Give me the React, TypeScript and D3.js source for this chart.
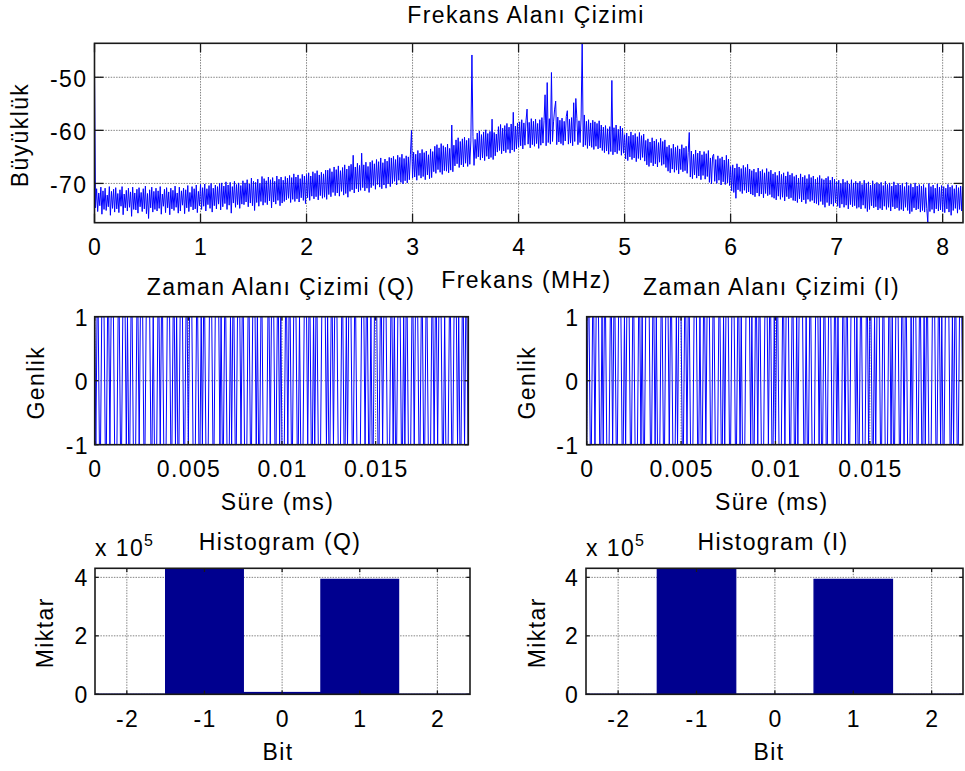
import React from 'react';
import * as d3 from 'd3';

const FONT = '"Liberation Sans", Arial, Helvetica, sans-serif';

// ---------- Spectrum (dB) sampled every 0.01 MHz ----------
const spectrumStepMHz = 0.01;
const spectrumDb = [
  -48.9, -74.6, -71.0, -75.3, -71.8, -74.2, -70.7, -75.8, -71.4, -74.9, -70.9, -75.1, -72.2, -74.4, -70.6, -76.0, -71.5, -74.7, -71.1, -75.4,
  -70.8, -74.8, -71.9, -75.5, -71.2, -74.3, -70.6, -75.9, -72.0, -74.6, -71.3, -75.2, -70.9, -74.5, -71.6, -76.2, -70.7, -74.9, -71.8, -75.0,
  -71.1, -75.6, -70.8, -74.4, -71.7, -75.3, -71.0, -74.8, -70.5, -75.7, -71.9, -76.6, -71.2, -74.6, -70.7, -75.4, -71.5, -74.9, -70.9, -75.2,
  -71.4, -74.7, -70.6, -75.8, -72.0, -74.3, -71.1, -75.5, -70.8, -74.6, -71.6, -75.9, -70.9, -74.8, -71.3, -75.1, -70.5, -74.5, -71.8, -75.6,
  -70.7, -75.2, -71.4, -74.1, -70.9, -75.7, -71.2, -74.6, -70.4, -75.3, -71.7, -74.4, -70.6, -75.0, -71.0, -74.8, -70.3, -75.5, -71.5, -74.2,
  -70.2, -74.9, -70.8, -74.3, -70.1, -75.2, -71.0, -74.0, -70.4, -74.7, -70.0, -75.4, -70.9, -74.2, -70.3, -74.8, -70.6, -73.9, -70.0, -75.0,
  -69.9, -74.4, -70.5, -73.8, -69.7, -74.9, -70.3, -74.1, -69.8, -75.6, -70.6, -73.7, -69.6, -74.5, -70.2, -74.0, -69.9, -74.7, -70.4, -73.9,
  -69.5, -74.0, -69.9, -73.5, -69.3, -74.4, -70.1, -73.7, -69.0, -74.2, -69.6, -75.1, -69.8, -73.6, -69.2, -74.3, -70.0, -73.4, -68.7, -74.1,
  -69.1, -73.6, -69.5, -74.0, -68.8, -73.3, -69.3, -74.6, -68.9, -73.5, -69.6, -73.9, -68.6, -73.2, -69.2, -74.2, -68.8, -73.7, -69.4, -73.4,
  -68.7, -73.1, -69.0, -72.8, -68.5, -73.6, -68.9, -73.0, -68.2, -73.4, -68.8, -72.9, -68.4, -73.5, -69.1, -72.7, -68.3, -73.2, -68.6, -73.8,
  -68.3, -72.7, -68.0, -73.2, -68.6, -72.4, -67.8, -72.9, -68.1, -72.5, -67.6, -73.1, -68.4, -72.3, -67.9, -72.8, -68.2, -72.6, -67.5, -73.0,
  -67.5, -72.1, -67.2, -72.5, -67.8, -71.7, -66.9, -72.3, -67.4, -71.8, -66.7, -72.4, -67.6, -71.5, -67.0, -72.2, -66.5, -71.9, -67.3, -72.6,
  -66.7, -71.5, -66.4, -71.2, -64.7, -71.8, -66.9, -71.0, -66.2, -71.6, -66.6, -71.3, -64.3, -70.8, -66.5, -71.4, -66.0, -70.9, -66.8, -71.7,
  -66.0, -70.8, -65.7, -70.4, -66.3, -71.1, -65.5, -70.2, -65.9, -70.7, -65.2, -71.0, -66.1, -70.3, -65.4, -70.9, -65.8, -70.1, -65.1, -70.6,
  -65.2, -70.0, -64.9, -69.6, -65.5, -70.3, -64.7, -69.4, -65.1, -69.8, -64.5, -70.1, -65.3, -69.5, -64.8, -69.9, -65.0, -69.3, -64.6, -60.0,
  -69.0, -64.1, -68.8, -64.5, -69.4, -63.8, -68.5, -64.3, -69.0, -63.6, -68.7, -64.2, -69.3, -63.9, -68.4, -64.6, -69.1, -63.5, -68.9, -64.0,
  -67.8, -63.0, -68.1, -62.7, -67.4, -63.3, -67.9, -62.5, -68.3, -62.9, -67.6, -63.2, -67.7, -62.6, -68.0, -63.4, -67.5, -59.0, -67.8, -62.8,
  -66.7, -61.8, -66.3, -61.4, -67.0, -62.1, -66.5, -61.6, -66.9, -61.3, -66.2, -61.9, -66.8, -61.5, -66.4, -62.0, -45.8, -61.2, -66.6, -61.7,
  -65.3, -60.5, -65.0, -60.1, -65.6, -60.8, -65.2, -60.3, -65.7, -59.9, -64.9, -60.6, -65.4, -60.2, -65.1, -57.9, -65.5, -60.4, -64.8, -60.7,
  -64.1, -59.3, -63.8, -58.9, -64.4, -59.6, -63.9, -59.1, -64.2, -58.7, -63.6, -59.4, -64.3, -58.8, -63.7, -56.6, -64.0, -59.2, -63.5, -58.6,
  -63.2, -58.4, -62.9, -58.0, -63.5, -58.6, -62.8, -58.2, -56.0, -62.6, -58.5, -63.3, -57.8, -62.7, -58.3, -63.0, -57.9, -62.5, -58.7, -63.4,
  -58.0, -62.8, -57.6, -62.4, -58.2, -53.3, -62.9, -51.0, -62.3, -57.8, -62.6, -49.1, -62.1, -58.4, -56.0, -54.5, -62.7, -57.5, -62.2, -58.1,
  -62.5, -57.7, -62.8, -58.3, -62.0, -57.4, -56.3, -62.6, -57.9, -62.4, -57.6, -62.9, -54.8, -62.1, -54.0, -57.8, -62.7, -58.2, -62.3, -57.5,
  -43.0, -63.1, -57.1, -62.8, -58.3, -63.4, -58.0, -62.9, -58.6, -63.2, -58.1, -63.6, -58.4, -63.0, -58.7, -63.5, -58.2, -63.3, -59.0, -63.8,
  -59.4, -64.2, -59.1, -63.9, -59.7, -64.5, -59.3, -64.0, -50.6, -64.6, -59.5, -64.1, -59.0, -64.4, -59.8, -63.8, -59.2, -64.7, -59.6, -64.3,
  -60.8, -65.4, -60.5, -65.7, -61.1, -65.0, -60.3, -65.5, -60.9, -65.2, -60.6, -65.9, -61.2, -65.3, -60.4, -65.6, -61.0, -65.1, -60.7, -65.8,
  -61.9, -66.5, -61.6, -66.8, -62.2, -66.1, -61.4, -66.7, -62.0, -66.3, -61.7, -66.9, -62.3, -66.0, -61.5, -66.6, -62.1, -66.4, -61.8, -67.0,
  -63.1, -67.7, -62.8, -68.0, -63.4, -67.3, -62.6, -67.9, -63.2, -67.5, -62.9, -68.2, -63.5, -67.4, -62.7, -67.8, -63.3, -67.6, -63.0, -68.1,
  -64.2, -60.4, -68.8, -63.9, -69.1, -64.5, -68.4, -63.7, -69.0, -64.3, -68.6, -63.9, -69.3, -64.6, -68.5, -64.0, -69.2, -64.4, -68.7, -63.8,
  -69.8, -65.2, -70.1, -64.9, -64.5, -69.6, -65.5, -70.0, -64.8, -69.4, -65.3, -70.3, -65.0, -69.7, -65.6, -70.2, -64.7, -69.9, -65.4, -70.4,
  -66.8, -71.4, -66.5, -71.7, -67.1, -72.8, -66.3, -71.2, -66.9, -71.5, -67.2, -71.9, -66.6, -71.3, -67.0, -71.8, -66.4, -71.6, -67.3, -72.0,
  -67.6, -72.2, -67.3, -72.5, -67.9, -71.8, -67.1, -72.4, -67.7, -72.0, -67.4, -72.7, -68.0, -71.9, -67.2, -72.3, -67.8, -72.1, -67.5, -72.6,
  -68.2, -72.8, -67.9, -73.1, -68.5, -72.4, -67.7, -73.0, -68.3, -72.6, -68.0, -73.3, -68.6, -72.5, -67.8, -72.9, -68.4, -72.7, -68.1, -73.2,
  -68.7, -73.3, -68.4, -73.6, -69.0, -72.9, -68.2, -73.5, -68.8, -73.1, -68.5, -73.8, -69.1, -73.0, -68.3, -73.4, -68.9, -73.2, -68.6, -73.7,
  -69.2, -73.8, -68.9, -74.1, -68.5, -73.4, -69.1, -74.0, -69.3, -74.5, -69.0, -73.6, -68.7, -74.2, -69.4, -73.9, -68.8, -74.3, -69.2, -73.7,
  -69.7, -74.3, -69.4, -74.6, -70.0, -73.9, -69.2, -74.5, -69.8, -74.1, -69.5, -74.8, -70.1, -74.0, -69.3, -74.4, -69.9, -74.2, -69.6, -74.7,
  -69.9, -74.5, -69.6, -74.8, -70.2, -74.1, -69.4, -74.7, -70.0, -75.3, -69.7, -74.9, -70.3, -74.2, -69.5, -74.6, -70.1, -74.4, -69.8, -75.0,
  -70.1, -74.7, -69.8, -75.0, -70.4, -74.3, -69.6, -74.9, -70.2, -74.5, -69.9, -75.2, -70.5, -74.4, -69.7, -74.8, -70.3, -74.6, -70.0, -75.1,
  -70.3, -74.9, -70.0, -75.2, -70.6, -74.5, -69.8, -75.1, -70.4, -75.7, -70.1, -75.3, -70.7, -74.6, -69.9, -75.0, -70.5, -74.8, -70.2, -75.4,
  -70.5, -75.1, -70.2, -75.4, -70.8, -74.7, -77.4, -70.0, -75.3, -70.6, -74.9, -70.3, -75.6, -70.9, -74.8, -70.1, -75.2, -70.7, -75.0, -70.4,
  -75.3, -70.6, -75.5, -70.9, -74.8, -70.2, -75.4, -70.7, -76.0, -70.4, -75.1, -71.0, -74.7, -70.3, -75.6, -70.8, -74.9, -70.5, -75.2, -70.6,
];
const freqTicks = [0, 1, 2, 3, 4, 5, 6, 7, 8];
const freqTickLabels = ['0', '1', '2', '3', '4', '5', '6', '7', '8'];
const magTicks = [-70, -60, -50];
const magTickLabels = ['-70', '-60', '-50'];

// ---------- Time-domain samples ('+' = 1, '-' = -1) ----------
const sampleStepMs = 0.0000625;
const qSamples =
  '+-++--+++--++-+++---++--+++-+--++---++-+' +
  '++--++++--+---++-++---+++--++-+--+++--++' +
  '-+++---++--+-++---+++--++++-+--++---+-++' +
  '--+++-++---++--+++-+--++----++-+++--++-+' +
  '---++-++--+++--+---+++-++--+-++---++++-+' +
  '--++-+++---++--+-+++--++----+++-++--+--+' +
  '++--++-+++---++-+--+++--+-++---++-+++--+' +
  '+--++---++-++-+++--+---++--+++-+--++-++-' +
  '-+++--++--';
const iSamples =
  '-++--++-+++--+-++---++-++--+++--+-+++--+' +
  '+---++-+--++++--++-+---++--+++-++---+-++' +
  '+--++-++---+++--+--++-+++--++---++--+-++' +
  '+--+++--++-+---++++-+--++-++---+++-++--+' +
  '-++---++-+++--++--+-++++--+--++---+++-+-' +
  '-++--+++--++-+---++-++--++++-+--++---++-' +
  '++--+-+++--++---++-+--+++--++-++---+-+++' +
  '--++--+-++---+++--++-+--++++--+-++--+++-' +
  '-++--+-+++';
const timeTicks = [0, 0.005, 0.01, 0.015];
const timeTickLabels = ['0', '0.005', '0.01', '0.015'];
const ampTicks = [-1, 0, 1];
const ampTickLabels = ['-1', '0', '1'];

// ---------- Histograms ----------
const histBins = [-2, -1, 0, 1, 2];
const histQCounts = [300, 431000, 6000, 393000, 300];
const histICounts = [300, 431000, 800, 393000, 300];
const histYTicks = [0, 200000, 400000];
const histYTickLabels = ['0', '2', '4'];
const histXTickLabels = ['-2', '-1', '0', '1', '2'];

type Box = { x0: number; x1: number; y0: number; y1: number };

const txt = {
  fontFamily: FONT,
  fontSize: 23,
  letterSpacing: 1.4,
  fill: '#000',
} as const;

type AxesProps = {
  id: string;
  box: Box;
  x: d3.ScaleLinear<number, number>;
  y: d3.ScaleLinear<number, number>;
  xTicks: number[];
  xTickLabels: string[];
  yTicks: number[];
  yTickLabels: string[];
  tickLen: number;
  yLabelEnd: number;
  yLabelDy: number;
  title: string;
  titleX: number;
  titleY: number;
  xlabel: string;
  xlabelX: number;
  ylabel: string;
  ylabelX: number;
  ylabelY: number;
  children?: React.ReactNode;
  extra?: React.ReactNode;
};

function Axes(p: AxesProps) {
  const { box, x, y } = p;
  const grid = { stroke: '#858585', strokeWidth: 1, strokeDasharray: '1.5 1.2' };
  const tick = { stroke: '#1a1a1a', strokeWidth: 1.3 };
  return (
    <g>
      <defs>
        <clipPath id={p.id}>
          <rect x={box.x0} y={box.y0} width={box.x1 - box.x0} height={box.y1 - box.y0} />
        </clipPath>
      </defs>
      {p.xTicks.map((t, i) => (
        <line key={'gx' + i} x1={x(t)} x2={x(t)} y1={box.y0} y2={box.y1} {...grid} />
      ))}
      {p.yTicks.map((t, i) => (
        <line key={'gy' + i} x1={box.x0} x2={box.x1} y1={y(t)} y2={y(t)} {...grid} />
      ))}
      <g clipPath={`url(#${p.id})`}>{p.children}</g>
      <rect
        x={box.x0}
        y={box.y0}
        width={box.x1 - box.x0}
        height={box.y1 - box.y0}
        fill="none"
        stroke="#1a1a1a"
        strokeWidth={1.6}
      />
      {p.xTicks.map((t, i) => (
        <g key={'tx' + i}>
          <line x1={x(t)} x2={x(t)} y1={box.y1} y2={box.y1 - p.tickLen} {...tick} />
          <line x1={x(t)} x2={x(t)} y1={box.y0} y2={box.y0 + p.tickLen} {...tick} />
        </g>
      ))}
      {p.yTicks.map((t, i) => (
        <g key={'ty' + i}>
          <line x1={box.x0} x2={box.x0 + p.tickLen} y1={y(t)} y2={y(t)} {...tick} />
          <line x1={box.x1} x2={box.x1 - p.tickLen} y1={y(t)} y2={y(t)} {...tick} />
        </g>
      ))}
      {p.xTicks.map((t, i) => (
        <text key={'lx' + i} x={x(t) + 0.7} y={box.y1 + 32.5} textAnchor="middle" {...txt}>
          {p.xTickLabels[i]}
        </text>
      ))}
      {p.yTicks.map((t, i) => (
        <text key={'ly' + i} x={p.yLabelEnd + 1.4} y={y(t) + p.yLabelDy} textAnchor="end" {...txt}>
          {p.yTickLabels[i]}
        </text>
      ))}
      <text x={p.titleX} y={p.titleY} textAnchor="middle" {...txt}>
        {p.title}
      </text>
      <text x={p.xlabelX} y={box.y1 + 65.3} textAnchor="middle" {...txt}>
        {p.xlabel}
      </text>
      <text
        transform={`translate(${p.ylabelX},${p.ylabelY}) rotate(-90)`}
        textAnchor="middle"
        {...txt}
      >
        {p.ylabel}
      </text>
      {p.extra}
    </g>
  );
}

function parseSamples(s: string): [number, number][] {
  return s.split('').map((c, i) => [i * sampleStepMs, c === '+' ? 1 : c === '-' ? -1 : 0]);
}

function TimePanel(props: {
  id: string;
  box: Box;
  xMax: number;
  samples: string;
  title: string;
  titleX: number;
  labelX: number;
  ylabelX: number;
  yLabelEnd: number;
}) {
  const { box } = props;
  const x = d3.scaleLinear().domain([0, props.xMax]).range([box.x0, box.x1]);
  const y = d3.scaleLinear().domain([-1, 1]).range([box.y1, box.y0]);
  const pts = parseSamples(props.samples);
  const path = d3
    .line<[number, number]>()
    .x((d) => x(d[0]))
    .y((d) => y(d[1]))(pts);
  return (
    <Axes
      id={props.id}
      box={box}
      x={x}
      y={y}
      xTicks={timeTicks}
      xTickLabels={timeTickLabels}
      yTicks={ampTicks}
      yTickLabels={ampTickLabels}
      tickLen={3.7}
      yLabelEnd={props.yLabelEnd}
      yLabelDy={9}
      title={props.title}
      titleX={props.titleX}
      titleY={box.y0 - 21.7}
      xlabel="Süre (ms)"
      xlabelX={props.labelX}
      ylabel="Genlik"
      ylabelX={props.ylabelX}
      ylabelY={(box.y0 + box.y1) / 2 + 2}
    >
      <path d={path || ''} fill="none" stroke="#0000ff" strokeWidth={1} />
    </Axes>
  );
}

function HistPanel(props: {
  id: string;
  box: Box;
  xDomain: [number, number];
  counts: number[];
  title: string;
  titleX: number;
  labelX: number;
  ylabelX: number;
  yLabelEnd: number;
}) {
  const { box } = props;
  const x = d3.scaleLinear().domain(props.xDomain).range([box.x0, box.x1]);
  const y = d3.scaleLinear().domain([0, 431000]).range([box.y1, box.y0]);
  const color = '#00008f';
  return (
    <Axes
      id={props.id}
      box={box}
      x={x}
      y={y}
      xTicks={histBins}
      xTickLabels={histXTickLabels}
      yTicks={histYTicks}
      yTickLabels={histYTickLabels}
      tickLen={3.7}
      yLabelEnd={props.yLabelEnd}
      yLabelDy={8.3}
      title={props.title}
      titleX={props.titleX}
      titleY={box.y0 - 18.3}
      xlabel="Bit"
      xlabelX={props.labelX}
      ylabel="Miktar"
      ylabelX={props.ylabelX}
      ylabelY={(box.y0 + box.y1) / 2 + 1.5}
      extra={
        <text x={box.x0} y={box.y0 - 12.3} {...txt}>
          x 10
          <tspan dy={-10} fontSize={16} letterSpacing={0}>
            5
          </tspan>
        </text>
      }
    >
      {histBins.map((b, i) => {
        const xl = x(b - 0.5);
        const xr = x(b + 0.5);
        const yt = y(props.counts[i]);
        return (
          <rect
            key={i}
            x={xl}
            y={yt}
            width={xr - xl}
            height={Math.max(0, box.y1 - yt)}
            fill={color}
            stroke={color}
            strokeWidth={1.3}
          />
        );
      })}
    </Axes>
  );
}

export default function App() {
  const W = 965;
  const H = 771;

  const top: Box = { x0: 94.5, x1: 963, y0: 43.3, y1: 222.7 };
  const fx = d3.scaleLinear().domain([0, 8.192]).range([top.x0, top.x1]);
  const fy = d3.scaleLinear().domain([-77.4, -43.6]).range([top.y1, top.y0]);
  const specPts: [number, number][] = spectrumDb.map((v, i) => [i * spectrumStepMHz, v]);
  const specPath = d3
    .line<[number, number]>()
    .x((d) => fx(d[0]))
    .y((d) => fy(d[1]))(specPts);

  return (
    <svg
      width={W}
      height={H}
      viewBox={`0 0 ${W} ${H}`}
      style={{ position: 'fixed', left: 0, top: 0, background: '#fff' }}
    >
      <rect x={0} y={0} width={W} height={H} fill="#fff" />
      <Axes
        id="clip-spec"
        box={top}
        x={fx}
        y={fy}
        xTicks={freqTicks}
        xTickLabels={freqTickLabels}
        yTicks={magTicks}
        yTickLabels={magTickLabels}
        tickLen={9}
        yLabelEnd={86}
        yLabelDy={9.5}
        title="Frekans Alanı Çizimi"
        titleX={526}
        titleY={22.7}
        xlabel="Frekans (MHz)"
        xlabelX={526.5}
        ylabel="Büyüklük"
        ylabelX={28}
        ylabelY={135}
      >
        <path d={specPath || ''} fill="none" stroke="#0000ff" strokeWidth={1} />
      </Axes>

      <TimePanel
        id="clip-q"
        box={{ x0: 94.7, x1: 468.3, y0: 316.7, y1: 444.7 }}
        xMax={0.01995}
        samples={qSamples}
        title="Zaman Alanı Çizimi (Q)"
        titleX={281}
        labelX={277.5}
        ylabelX={44}
        yLabelEnd={87.5}
      />
      <TimePanel
        id="clip-i"
        box={{ x0: 586.7, x1: 962.7, y0: 316.7, y1: 444.7 }}
        xMax={0.01992}
        samples={iSamples}
        title="Zaman Alanı Çizimi (I)"
        titleX={771.5}
        labelX={771.7}
        ylabelX={535}
        yLabelEnd={578}
      />

      <HistPanel
        id="clip-hq"
        box={{ x0: 95, x1: 470, y0: 568.3, y1: 694.3 }}
        xDomain={[-2.41, 2.42]}
        counts={histQCounts}
        title="Histogram (Q)"
        titleX={280}
        labelX={278}
        ylabelX={53}
        yLabelEnd={87.3}
      />
      <HistPanel
        id="clip-hi"
        box={{ x0: 586, x1: 963, y0: 568.3, y1: 694.3 }}
        xDomain={[-2.41, 2.4]}
        counts={histICounts}
        title="Histogram (I)"
        titleX={773}
        labelX={769}
        ylabelX={545}
        yLabelEnd={577.7}
      />
    </svg>
  );
}
